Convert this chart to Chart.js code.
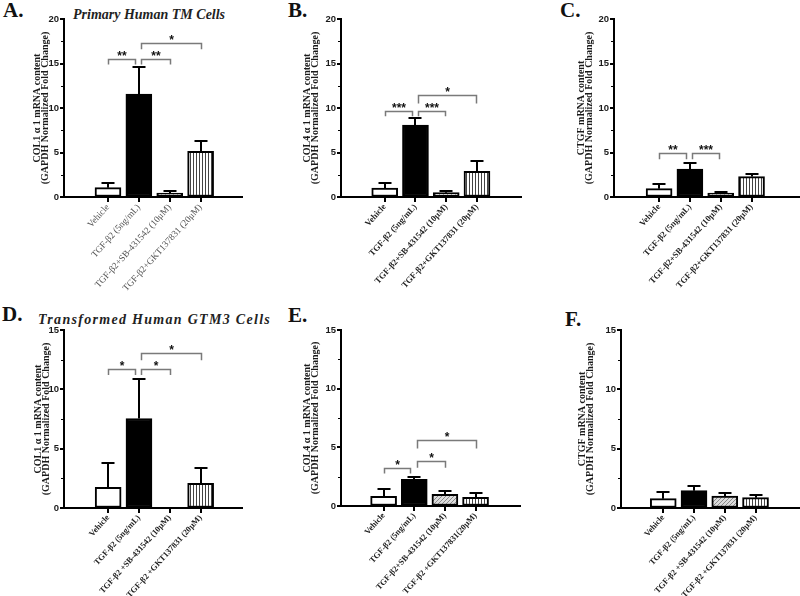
<!DOCTYPE html>
<html lang="en">
<head>
<meta charset="UTF-8">
<title>TGF-β2 induced ECM gene expression in TM and GTM3 cells</title>
<script src="https://cdn.jsdelivr.net/npm/chart.js"></script>
<style>
    body { margin: 0; background: #fff; width: 800px; height: 596px; position: relative; overflow: hidden; }
    canvas { position: absolute; }
    .letter { position: absolute; font: bold 21px 'Liberation Serif', serif; line-height: 21px; color: #111; }
    .title { position: absolute; font: italic bold 14px 'Liberation Serif', serif; line-height: 14px; color: #222; white-space: nowrap; }
</style>
</head>
<body>

<!-- panel letters and row titles -->
<div class="letter" style="left:3px;top:0px">A.</div>
<div class="letter" style="left:288px;top:0px">B.</div>
<div class="letter" style="left:560px;top:0px">C.</div>
<div class="letter" style="left:2px;top:304px">D.</div>
<div class="letter" style="left:288px;top:305px">E.</div>
<div class="letter" style="left:565px;top:309px">F.</div>
<div class="title" style="left:73px;top:8px">Primary Human TM Cells</div>
<div class="title" style="left:38px;top:313px;letter-spacing:1.3px">Transformed Human GTM3 Cells</div>

<canvas id="panelA" width="262" height="298" style="left:0;top:0"></canvas>
<canvas id="panelB" width="262" height="298" style="left:270px;top:0"></canvas>
<canvas id="panelC" width="265" height="298" style="left:535px;top:0"></canvas>
<canvas id="panelD" width="262" height="296" style="left:0;top:300px"></canvas>
<canvas id="panelE" width="262" height="296" style="left:270px;top:300px"></canvas>
<canvas id="panelF" width="265" height="296" style="left:535px;top:300px"></canvas>

<script>
    // ---- data (mean fold change and upper SEM) ----
    const labelsTop = ['Vehicle', 'TGF-β2 (5ng/mL)', 'TGF-β2+SB-431542 (10μM)', 'TGF-β2+GKT137831 (20μM)'];
    const labelsD = ['Vehicle', 'TGF-β2 (5ng/mL)', 'TGF-β2 +SB-431542 (10μM)', 'TGF-β2 +GKT137831 (20μM)'];
    const labelsE = ['Vehicle', 'TGF-β2 (5ng/mL)', 'TGF-β2+SB-431542 (10μM)', 'TGF-β2 +GKT137831(20μM)'];
    const labelsF = ['Vehicle', 'TGF-β2 (5ng/mL)', 'TGF-β2 +SB-431542 (10μM)', 'TGF-β2 +GKT137831 (20μM)'];

    // primary human TM cells
    const tmCol1 = [1.05, 11.56, 0.45, 5.14];
    const tmCol1Err = [0.55, 3.0, 0.19, 1.16];
    const tmCol4 = [1.0, 8.07, 0.49, 2.89];
    const tmCol4Err = [0.58, 0.79, 0.15, 1.11];
    const tmCtgf = [0.94, 3.15, 0.45, 2.29];
    const tmCtgfErr = [0.52, 0.68, 0.11, 0.30];

    // transformed GTM3 cells
    const gtmCol1 = [1.74, 7.54, 0, 2.08];
    const gtmCol1Err = [2.03, 3.32, 0, 1.27];
    const gtmCol4 = [0.83, 2.28, 1.0, 0.74];
    const gtmCol4Err = [0.65, 0.2, 0.25, 0.4];
    const gtmCtgf = [0.79, 1.46, 1.01, 0.87];
    const gtmCtgfErr = [0.56, 0.43, 0.28, 0.23];

    // significance brackets: [from, to, top value, leg end value, label]
    const sigA = [[0, 0.86, 15.46, 14.9, '**'], [1.06, 2, 15.46, 14.9, '**'], [1.06, 3, 17.3, 16.6, '*']];
    const sigB = [[0, 0.89, 9.64, 9.08, '***'], [1.08, 1.95, 9.64, 9.08, '***'], [1.08, 2.98, 11.44, 10.5, '*']];
    const sigC = [[0, 0.86, 4.99, 4.24, '**'], [1.07, 1.95, 4.99, 4.24, '***']];
    const sigD = [[0, 0.86, 11.68, 11.2, '*'], [1.06, 2, 11.68, 11.2, '*'], [1.06, 3, 13.03, 12.45, '*']];
    const sigE = [[0, 0.87, 3.25, 2.76, '*'], [1.08, 2, 3.81, 3.25, '*'], [1.08, 3, 5.6, 4.9, '*']];
    const sigF = [];

    const yTitleEnd = '(GAPDH Normalized Fold Change)';

    // ---- fill patterns ----
    function makePattern(size, draw) {
        const c = document.createElement('canvas');
        c.width = size; c.height = size;
        const g = c.getContext('2d');
        draw(g, size);
        return g.createPattern(c, 'repeat');
    }
    const hatch = makePattern(4, (g, s) => {
        g.fillStyle = '#dcdcdc'; g.fillRect(0, 0, s, s);
        g.strokeStyle = '#8a8a8a'; g.lineWidth = 1;
        g.beginPath(); g.moveTo(0, s); g.lineTo(s, 0); g.moveTo(-1, 1); g.lineTo(1, -1); g.moveTo(s - 1, s + 1); g.lineTo(s + 1, s - 1); g.stroke();
    });
    const stripes = makePattern(3, (g, s) => {
        g.fillStyle = '#fff'; g.fillRect(0, 0, s, s);
        g.fillStyle = '#444'; g.fillRect(1, 0, 1, s);
    });
    const barFills = ['#ffffff', '#000000', hatch, stripes];

    // ---- plugins ----
    // GraphPad style axes: solid black lines, major + minor ticks, taken from the scales
    const blackAxes = {
        id: 'blackAxes',
        beforeDatasetsDraw(chart) {
            const { ctx, chartArea: a, scales: { x, y } } = chart;
            const left = Math.round(a.left), bottom = Math.round(a.bottom);
            ctx.save();
            ctx.strokeStyle = '#000';
            ctx.lineWidth = 2;
            ctx.beginPath();
            y.ticks.forEach(t => {
                const p = Math.round(y.getPixelForValue(t.value));
                ctx.moveTo(left - 4, p); ctx.lineTo(left, p);
            });
            x.ticks.forEach(t => {
                const p = Math.round(x.getPixelForValue(t.value));
                ctx.moveTo(p, bottom); ctx.lineTo(p, bottom + 5);
            });
            ctx.stroke();
            ctx.lineWidth = 1;
            ctx.beginPath();
            for (let v = 2.5; v < y.max; v += 5) {
                const p = Math.round(y.getPixelForValue(v)) + 0.5;
                ctx.moveTo(left - 3, p); ctx.lineTo(left, p);
            }
            ctx.stroke();
            ctx.lineWidth = 2;
            ctx.lineCap = 'square';
            ctx.beginPath();
            ctx.moveTo(left, Math.round(a.top));
            ctx.lineTo(left, bottom);
            ctx.lineTo(Math.round(a.right), bottom);
            ctx.stroke();
            ctx.restore();
        }
    };

    const errorBars = {
        id: 'errorBars',
        afterDatasetsDraw(chart) {
            const ds = chart.data.datasets[0];
            const meta = chart.getDatasetMeta(0);
            const y = chart.scales.y;
            const ctx = chart.ctx;
            ctx.save();
            ctx.strokeStyle = '#000';
            ctx.lineWidth = 2;
            meta.data.forEach((bar, i) => {
                const err = ds.errors[i];
                if (!err) return;
                const top = Math.round(y.getPixelForValue(ds.data[i].y + err));
                const cx = Math.round(bar.x);
                ctx.beginPath();
                ctx.moveTo(cx, bar.y);
                ctx.lineTo(cx, top);
                ctx.moveTo(cx - 6.5, top);
                ctx.lineTo(cx + 6.5, top);
                ctx.stroke();
            });
            ctx.restore();
        }
    };

    function bracketPlugin(list) {
        return {
            id: 'sigBrackets',
            afterDatasetsDraw(chart) {
                const { ctx, scales: { x, y } } = chart;
                ctx.save();
                list.forEach(([a, b, top, low, stars]) => {
                    const x1 = Math.round(x.getPixelForValue(a)) + 0.5, x2 = Math.round(x.getPixelForValue(b)) + 0.5;
                    const yt = Math.round(y.getPixelForValue(top)) + 0.5, yl = y.getPixelForValue(low);
                    ctx.strokeStyle = '#7a7a7a';
                    ctx.lineWidth = 1.5;
                    ctx.beginPath();
                    ctx.moveTo(x1, yl);
                    ctx.lineTo(x1, yt);
                    ctx.lineTo(x2, yt);
                    ctx.lineTo(x2, yl);
                    ctx.stroke();
                    ctx.fillStyle = '#111';
                    ctx.font = 'bold 12px "Liberation Sans", Arial, sans-serif';
                    ctx.textAlign = 'center';
                    ctx.textBaseline = 'alphabetic';
                    ctx.fillText(stars, (x1 + x2) / 2, yt);
                });
                ctx.restore();
            }
        };
    }

    // ---- one GraphPad-style panel ----
    function makePanel(id, p) {
        // library grid kept only for label spacing; the visible axes come from blackAxes
        const gridOpts = { drawOnChartArea: false, drawTicks: true, tickLength: 4, color: 'rgba(0,0,0,0)' };
        return new Chart(document.getElementById(id), {
            type: 'bar',
            data: {
                datasets: [{
                    data: p.means.map((v, i) => ({ x: i, y: v })),
                    errors: p.errors,
                    backgroundColor: barFills,
                    borderColor: '#000',
                    borderWidth: 2,
                    borderSkipped: false,
                    barThickness: 26
                }]
            },
            options: {
                responsive: false,
                animation: false,
                layout: { padding: { left: 0, top: p.padTop, right: p.padRight, bottom: 0 } },
                plugins: { legend: { display: false }, tooltip: { enabled: false } },
                scales: {
                    x: {
                        type: 'linear',
                        min: p.xMin,
                        max: p.xMax,
                        afterFit: s => { s.height = p.xHeight; },
                        border: { display: false },
                        grid: gridOpts,
                        ticks: {
                            stepSize: 1,
                            includeBounds: false,
                            autoSkip: false,
                            minRotation: 48,
                            maxRotation: 48,
                            padding: 1,
                            color: p.xColor || '#222',
                            font: { family: "'Liberation Serif', serif", size: p.xSize || 8.7, weight: p.xWeight || 'bold' },
                            callback: v => p.labels[v] ?? ''
                        }
                    },
                    y: {
                        min: 0,
                        max: p.yMax,
                        afterFit: s => { s.width = p.yWidth; },
                        border: { display: false },
                        grid: gridOpts,
                        ticks: {
                            stepSize: 5,
                            padding: 1,
                            color: '#1a1a1a',
                            font: { family: "'Liberation Sans', Arial, sans-serif", size: 9.5, weight: 'bold' }
                        },
                        title: {
                            display: true,
                            text: [p.yTitle, yTitleEnd],
                            color: '#1a1a1a',
                            padding: { top: p.titleOffset, bottom: 0 },
                            font: { family: "'Liberation Serif', serif", size: 10, weight: 'bold', lineHeight: 0.8 }
                        }
                    }
                }
            },
            plugins: [blackAxes, errorBars, bracketPlugin(p.sig)]
        });
    }

    makePanel('panelA', { means: tmCol1, errors: tmCol1Err, sig: sigA, labels: labelsTop, yTitle: 'COL1 α 1 mRNA content',
        yMax: 20, padTop: 19, padRight: 20, yWidth: 64, xHeight: 101, xMin: -0.704, xMax: 3.62, titleOffset: 33.5,
        xColor: '#555', xWeight: 'normal', xSize: 9.3 });
    makePanel('panelB', { means: tmCol4, errors: tmCol4Err, sig: sigB, labels: labelsTop, yTitle: 'COL4 α 1 mRNA content',
        yMax: 20, padTop: 19, padRight: 11, yWidth: 71, xHeight: 101, xMin: -0.69, xMax: 3.70, titleOffset: 33 });
    makePanel('panelC', { means: tmCtgf, errors: tmCtgfErr, sig: sigC, labels: labelsTop, yTitle: 'CTGF mRNA content',
        yMax: 20, padTop: 19, padRight: 1, yWidth: 79, xHeight: 101, xMin: -0.713, xMax: 3.79, titleOffset: 42.5 });
    makePanel('panelD', { means: gtmCol1, errors: gtmCol1Err, sig: sigD, labels: labelsD, yTitle: 'COL1 α 1 mRNA content',
        yMax: 15, padTop: 30, padRight: 20, yWidth: 64, xHeight: 88, xMin: -0.71, xMax: 3.62, titleOffset: 34.5, xSize: 8.4 });
    makePanel('panelE', { means: gtmCol4, errors: gtmCol4Err, sig: sigE, labels: labelsE, yTitle: 'COL4 α 1 mRNA content',
        yMax: 15, padTop: 30, padRight: 12, yWidth: 71, xHeight: 90, xMin: -0.66, xMax: 3.72, titleOffset: 33, xSize: 8.4 });
    makePanel('panelF', { means: gtmCtgf, errors: gtmCtgfErr, sig: sigF, labels: labelsF, yTitle: 'CTGF mRNA content',
        yMax: 15, padTop: 30, padRight: 1, yWidth: 86, xHeight: 88, xMin: -0.65, xMax: 3.69, titleOffset: 43, xSize: 8.4 });
</script>

</body>
</html>
